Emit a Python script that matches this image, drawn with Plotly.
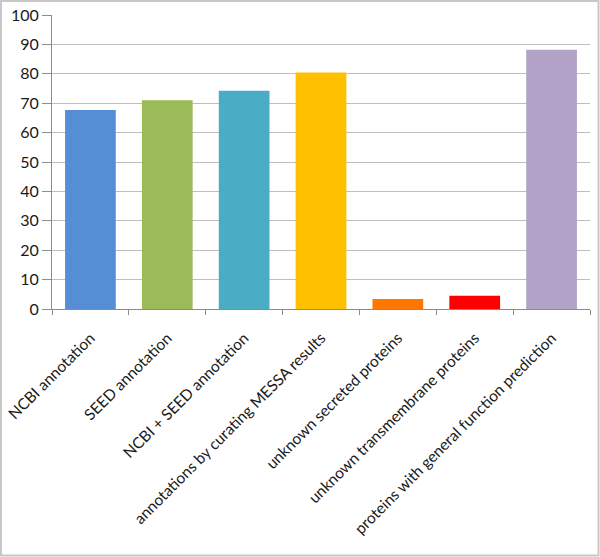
import plotly.graph_objects as go

categories = ["NCBI annotation", "SEED annotation", "NCBI + SEED annotation",
              "annotations by curating MESSA results", "unknown secreted proteins",
              "unknown transmembrane proteins", "proteins with general function prediction"]
values = [67.7, 71.0, 74.2, 80.4, 3.4, 4.5, 88.2]
colors = ["#558ED5", "#9BBB59", "#4BACC6", "#FFC000", "#FF7700", "#FF0000", "#B3A2C7"]
y_ticks = [0, 10, 20, 30, 40, 50, 60, 70, 80, 90, 100]

W, H = 600, 557
ml, mr, mt, mb = 52, 10, 15, 248

fig = go.Figure(go.Bar(
    x=categories, y=values,
    marker=dict(color=colors, line=dict(width=0)),
))

fig.update_layout(
    width=W, height=H,
    margin=dict(l=ml, r=mr, t=mt, b=mb, autoexpand=False),
    paper_bgcolor="white", plot_bgcolor="white",
    bargap=0.34, showlegend=False,
    font=dict(family="Lato, Liberation Sans, sans-serif", size=16, color="#1a1a1a"),
)
fig.update_yaxes(
    range=[0, 100], tickvals=y_ticks, showgrid=True, gridcolor="#BEBEBE", gridwidth=1,
    showline=True, linecolor="#8C8C8C", linewidth=1, automargin=False,
    ticks="outside", ticklen=9, tickcolor="#8C8C8C", zeroline=False,
    tickfont=dict(size=16),
)
fig.update_xaxes(
    showline=True, linecolor="#8C8C8C", linewidth=1, automargin=False,
    ticks="outside", ticklen=5, tickcolor="#8C8C8C", tickson="boundaries",
    tickangle=-45, tickfont=dict(size=15.5), ticklabelstandoff=13,
)

pw = W - ml - mr
ph = H - mt - mb
fig.add_shape(type="rect", xref="paper", yref="paper",
              x0=(1 - ml) / pw, x1=(W - 1.5 - ml) / pw,
              y0=-(H - 1.5 - mt - ph) / ph, y1=(ph + mt - 1) / ph,
              line=dict(color="#C8C8C8", width=2), fillcolor="rgba(0,0,0,0)", layer="above")

fig.write_html("out.html", config={"displayModeBar": False},
               post_script="document.body.style.margin='0';document.body.style.padding='0';")
